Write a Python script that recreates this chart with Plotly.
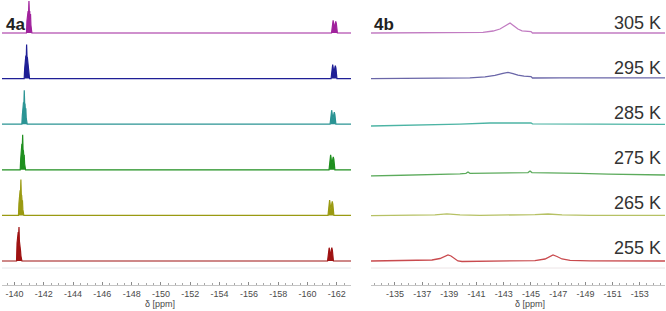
import plotly.graph_objects as go

W, H = 666, 311

temps = ["305 K", "295 K", "285 K", "275 K", "265 K", "255 K"]
colors_a = ["#a0229c", "#1f1f96", "#2b9494", "#1f8f1f", "#9a9a12", "#9e1212"]
colors_b = ["#c27cc2", "#6a66a8", "#4cb4a4", "#5cab5c", "#b6c164", "#c94a4e"]

# ---- axis tick labels ----
ticks_a = [-140, -142, -144, -146, -148, -150, -152, -154, -156, -158, -160, -162]
ticks_b = [-135, -137, -139, -141, -143, -145, -147, -149, -151, -153]
ticktext_a = ["-140", "-142", "-144", "-146", "-148", "-150", "-152", "-154", "-156", "-158", "-160", "-162"]
ticktext_b = ["-135", "-137", "-139", "-141", "-143", "-145", "-147", "-149", "-151", "-153"]

# ---- 4a spectra (ppm, intensity) ----
a305_x = [-139.15, -140.82, -140.853, -140.88, -140.907, -140.933, -140.96, -140.99, -141.017, -141.043,
          -141.07, -141.097, -141.123, -141.157, -141.19,
          -161.64, -161.68, -161.72, -161.75, -161.78, -161.82, -161.86, -161.90, -161.93, -161.97, -162.01, -162.04, -162.97]
a305_y = [0, 0, 12, 21, 15, 22, 18, 32, 20, 22, 14, 19, 8, 3, 0,
          0, 5, 11.5, 12.7, 10, 6, 6.5, 10, 11.7, 9.5, 4, 0, 0]

a295_x = [-139.15, -140.663, -140.697, -140.723, -140.75, -140.777, -140.803, -140.83, -140.857, -140.883,
          -140.91, -140.937, -140.963, -140.997, -141.03,
          -161.61, -161.65, -161.69, -161.72, -161.75, -161.79, -161.83, -161.87, -161.90, -161.94, -161.98, -162.01, -162.97]
a295_y = [0, 0, 10, 20, 16, 23, 19, 34, 22, 21, 15, 17, 7, 2, 0,
          0, 5.6, 12.6, 14, 11.2, 6.3, 7.4, 11, 13, 10.4, 4.5, 0, 0]

a285_x = [-139.15, -140.503, -140.537, -140.563, -140.59, -140.617, -140.643, -140.67, -140.697, -140.723,
          -140.75, -140.777, -140.803, -140.837, -140.87,
          -161.54, -161.58, -161.62, -161.65, -161.68, -161.72, -161.76, -161.80, -161.83, -161.87, -161.91, -161.94, -162.97]
a285_y = [0, 0, 9, 19, 14, 22, 20, 34, 21, 20, 13, 16, 6, 2, 0,
          0, 5.6, 12.6, 14, 11.2, 6, 7, 10.2, 12, 9.6, 4.2, 0, 0]

a275_x = [-139.15, -140.393, -140.427, -140.453, -140.48, -140.507, -140.533, -140.56, -140.587, -140.613,
          -140.64, -140.667, -140.693, -140.727, -140.76,
          -161.47, -161.51, -161.55, -161.58, -161.61, -161.65, -161.69, -161.73, -161.76, -161.80, -161.84, -161.87, -162.97]
a275_y = [0, 0, 11, 22, 17, 26, 21, 35, 20, 19, 13, 15, 6, 2, 0,
          0, 6, 13.5, 15, 12, 6.8, 7.5, 11, 13, 10.4, 4.5, 0, 0]

a265_x = [-139.15, -140.273, -140.307, -140.333, -140.36, -140.387, -140.413, -140.44, -140.467, -140.493,
          -140.52, -140.547, -140.573, -140.607, -140.64,
          -161.40, -161.44, -161.48, -161.51, -161.54, -161.58, -161.62, -161.66, -161.69, -161.73, -161.77, -161.80, -162.97]
a265_y = [0, 0, 12, 23, 16, 25, 22, 36, 21, 20, 14, 15, 6, 2, 0,
          0, 6.1, 13.8, 15.3, 12.2, 7, 7.7, 11.9, 14, 11.2, 4.9, 0, 0]

a255_x = [-139.15, -140.143, -140.177, -140.203, -140.23, -140.257, -140.283, -140.31, -140.337, -140.363,
          -140.39, -140.417, -140.443, -140.477, -140.51,
          -161.37, -161.41, -161.45, -161.48, -161.51, -161.55, -161.59, -161.63, -161.66, -161.70, -161.74, -161.77, -162.97]
a255_y = [0, 0, 18, 27, 22, 29, 24, 34, 20, 18, 12, 10, 5, 2, 0,
          0, 5.3, 12, 13.3, 10.6, 6, 6.6, 11.3, 13.3, 10.6, 4.7, 0, 0]

# ---- 4b spectra (ppm, intensity) ----
b305_x = [-133.24, -141.0, -141.47, -142.21, -142.72, -143.09, -143.46, -143.75, -144.04, -144.34, -144.78,
          -145.0, -145.11, -154.85]
b305_y = [0, 0.2, 0.7, 2, 4, 7, 10, 7, 4, 2.2, 1.6, 1.4, 0, 0]

b295_x = [-133.24, -138.31, -140.51, -141.62, -142.35, -142.94, -143.31, -143.68, -144.04, -144.49, -145.0,
          -145.11, -147.13, -154.85]
b295_y = [0, 0.2, 0.8, 1.8, 3.2, 5.2, 6.3, 5, 3.4, 2.4, 2.0, 0.6, 0.8, 0.8]

b285_x = [-133.24, -136.84, -139.78, -141.99, -143.46, -145.0, -145.11, -148.6, -154.85]
b285_y = [-1.8, -1.2, 0, 1.2, 1.5, 1.2, 0.3, 0.1, -0.1]

b275_x = [-133.24, -136.84, -139.78, -140.22, -140.37, -140.51, -142.72, -144.78, -144.93, -145.07, -148.6,
          -150.51, -150.59, -150.66, -154.85]
b275_y = [-6.2, -5.3, -4, -3.5, -2.2, -3.5, -3, -2.8, -1.2, -2.8, -3.6, -4.2, -4.8, -4.3, -5.2]

b265_x = [-133.24, -136.84, -137.94, -138.82, -139.78, -141.25, -144.19, -145.29, -146.25, -147.28, -149.34, -154.85]
b265_y = [-0.3, 0, 0.6, 1.5, 0.6, 0, 0.2, 0.8, 1.4, 0.5, 0, 0]

b255_x = [-133.24, -136.84, -137.72, -138.31, -138.68, -138.90, -139.12, -139.41, -139.63, -139.93, -140.88,
          -142.72, -145.29, -146.03, -146.40, -146.62, -146.91, -147.28, -147.87, -149.34, -154.85]
b255_y = [0, 0.3, 1, 2.5, 4.5, 6, 5, 2, 0, -0.5, -0.3,
          0, 0.4, 2, 4.5, 6, 4.5, 2, 0.6, 0.2, 0]

spec_a = [(a305_x, a305_y), (a295_x, a295_y), (a285_x, a285_y),
          (a275_x, a275_y), (a265_x, a265_y), (a255_x, a255_y)]
spec_b = [(b305_x, b305_y), (b295_x, b295_y), (b285_x, b285_y),
          (b275_x, b275_y), (b265_x, b265_y), (b255_x, b255_y)]

# ---- layout geometry (pixels) ----
row_base = [33, 78.6, 124.2, 169.8, 215.4, 261]
below, above = 7.0, 38.6


def py(p):
    return 1 - p / H


def px(p):
    return p / W


fig = go.Figure()
layout = {}
for p, (specs, cols, xname) in enumerate([(spec_a, colors_a, "x"), (spec_b, colors_b, "x2")]):
    for r, ((xs, ys), c) in enumerate(zip(specs, cols)):
        k = p * 6 + r + 1
        yname = "y" if k == 1 else f"y{k}"
        extra = dict(fill="tozeroy", fillcolor=c) if p == 0 else {}
        fig.add_trace(go.Scatter(x=xs, y=ys, mode="lines", xaxis=xname, yaxis=yname,
                                 line=dict(color=c, width=1.2 if p == 0 else 1.3),
                                 hoverinfo="skip", showlegend=False, **extra))
        b = row_base[r]
        top_px = max(b - above, 0.0)
        layout["yaxis" if k == 1 else f"yaxis{k}"] = dict(
            domain=[py(b + below), py(top_px)], range=[-below, b - top_px],
            visible=False, fixedrange=True, anchor=xname)

axis_common = dict(
    anchor="free", position=py(285), showline=True, linecolor="#c4c4c4", linewidth=1,
    ticks="inside", ticklen=3, tickcolor="#8a8a8a", tickwidth=1,
    showgrid=False, zeroline=False, tickmode="array", ticklabeloverflow="allow",
    tickfont=dict(family="Liberation Sans, Arial", size=9, color="#4a4a4a"),
    fixedrange=True, automargin=False,
)
layout["xaxis"] = dict(domain=[px(2), px(351)], range=[-139.15, -162.97],
                       tickvals=ticks_a, ticktext=ticktext_a,
                       minor=dict(dtick=0.5, tick0=-140, ticks="inside", ticklen=2, tickcolor="#a8a8a8"),
                       **axis_common)
layout["xaxis2"] = dict(domain=[px(371), px(665)], range=[-133.24, -154.85],
                        tickvals=ticks_b, ticktext=ticktext_b,
                        minor=dict(dtick=0.5, tick0=-135, ticks="inside", ticklen=2, tickcolor="#a8a8a8"),
                        **axis_common)

annotations = [
    dict(text="<b>4a</b>", x=px(4), y=py(25), xanchor="left", yanchor="middle",
         font=dict(family="Liberation Sans, Arial", size=17, color="#222222")),
    dict(text="<b>4b</b>", x=px(372), y=py(24), xanchor="left", yanchor="middle",
         font=dict(family="Liberation Sans, Arial", size=17, color="#222222")),
    dict(text="δ [ppm]", x=px(160), y=py(304), xanchor="center", yanchor="middle",
         font=dict(family="Liberation Sans, Arial", size=9, color="#4a4a4a")),
    dict(text="δ [ppm]", x=px(530), y=py(304), xanchor="center", yanchor="middle",
         font=dict(family="Liberation Sans, Arial", size=9, color="#4a4a4a")),
]
label_y = [23, 68, 113, 158, 203, 248]
for t, ly in zip(temps, label_y):
    annotations.append(dict(text=t, x=px(663), y=py(ly), xanchor="right", yanchor="middle",
                            font=dict(family="Liberation Sans, Arial", size=18, color="#333333")))
for a in annotations:
    a.update(xref="paper", yref="paper", showarrow=False)

shapes = [
    dict(type="line", xref="paper", yref="paper", x0=px(2), x1=px(351), y0=py(268), y1=py(268),
         line=dict(color="#e4e6ea", width=1)),
    dict(type="line", xref="paper", yref="paper", x0=px(371), x1=px(665), y0=py(268), y1=py(268),
         line=dict(color="#ece4e6", width=1)),
]

fig.update_layout(width=W, height=H, margin=dict(l=0, r=0, t=0, b=0),
                  paper_bgcolor="white", plot_bgcolor="white",
                  annotations=annotations, shapes=shapes, **layout)

fig.write_html("out.html", config={"displayModeBar": False},
               post_script="document.body.style.margin='0px';")
